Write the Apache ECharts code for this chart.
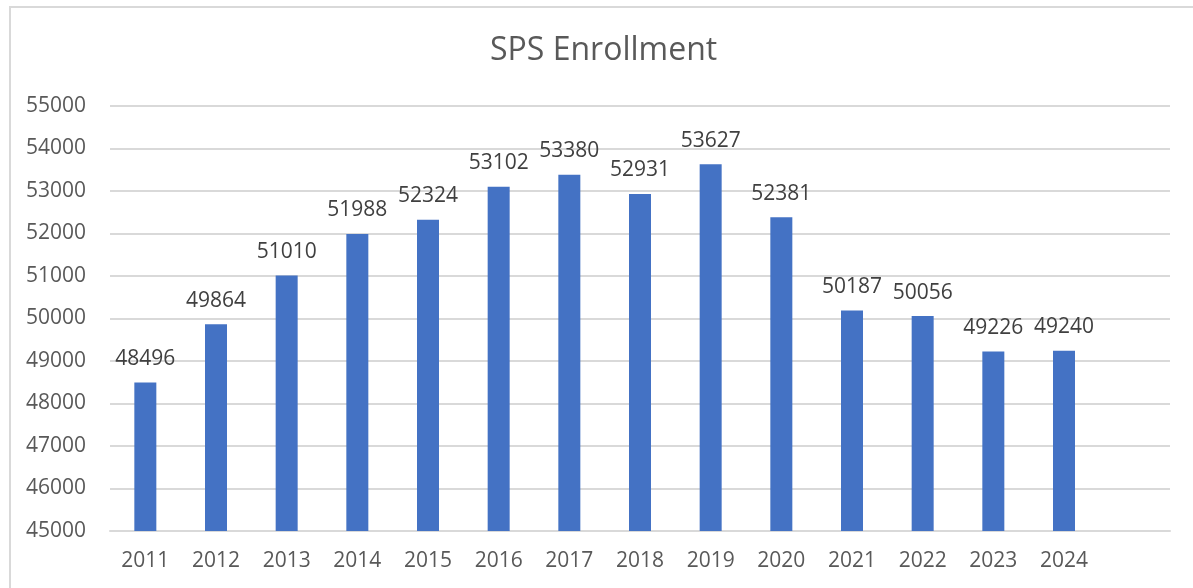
<!DOCTYPE html>
<html>
<head>
<meta charset="utf-8">
<script src="https://cdn.jsdelivr.net/npm/echarts@6/dist/echarts.min.js"></script>
<style>
  html, body { margin: 0; padding: 0; background: #fff; }
  #chart { position: absolute; left: 0; top: 0; width: 1193px; height: 588px; }
  #frame { position: absolute; left: 9px; top: 6px; width: 1300px; height: 700px;
           border-left: 2px solid #d9d9d9; border-top: 2px solid #d9d9d9; }
</style>
</head>
<body>
<div id="frame"></div>
<div id="chart"></div>
<script>
// school years on the x axis (last slot is empty in the original)
const years = ['2011', '2012', '2013', '2014', '2015', '2016', '2017', '2018', '2019', '2020', '2021', '2022', '2023', '2024', ''];
// enrollment per year
const enrollment = [48496, 49864, 51010, 51988, 52324, 53102, 53380, 52931, 53627, 52381, 50187, 50056, 49226, 49240, '-'];

const font = '"Open Sans", "Noto Sans", sans-serif';
const myChart = echarts.init(document.getElementById('chart'));

const option = {
    animation: false,
    title: {
        text: 'SPS Enrollment',
        left: 485,
        top: 30,
        textStyle: { fontFamily: font, fontSize: 32, fontWeight: 'normal', color: '#595959' }
    },
    grid: { left: 110, right: 23, top: 106, bottom: 57 },
    xAxis: {
        type: 'category',
        data: years,
        axisLine: { lineStyle: { color: '#d9d9d9', width: 2 } },
        axisTick: { show: false },
        axisLabel: { fontFamily: font, fontSize: 21, color: '#595959', margin: 20 }
    },
    yAxis: {
        type: 'value',
        min: 45000,
        max: 55000,
        interval: 1000,
        axisLine: { show: false },
        axisTick: { show: false },
        splitLine: { lineStyle: { color: '#d9d9d9', width: 2 } },
        axisLabel: {
            fontFamily: font, fontSize: 21, color: '#595959', margin: 24,
            formatter: v => String(v)
        }
    },
    series: [{
        type: 'bar',
        data: enrollment,
        barWidth: 22,
        itemStyle: { color: '#4472C4' },
        label: {
            show: true,
            position: 'top',
            distance: 13,
            fontFamily: font,
            fontSize: 21,
            color: '#404040'
        }
    }]
};
myChart.setOption(option);
</script>
</body>
</html>
